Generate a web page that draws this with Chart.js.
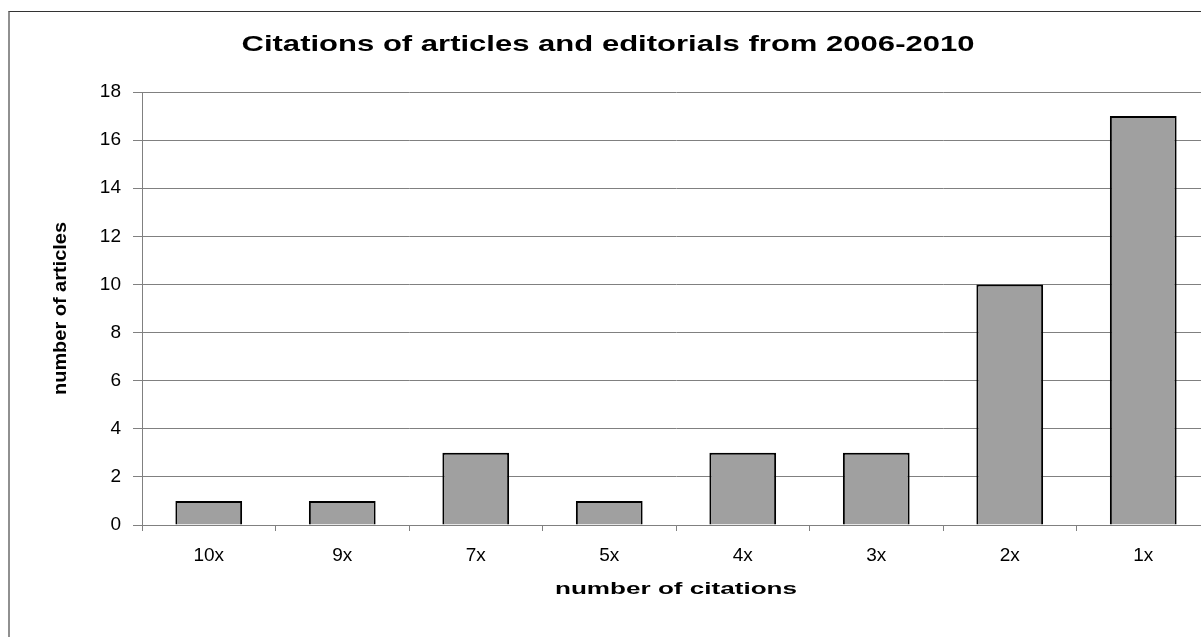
<!DOCTYPE html>
<html>
<head>
<meta charset="utf-8">
<script src="https://cdn.jsdelivr.net/npm/chart.js@4.4.1/dist/chart.umd.min.js"></script>
<style>
  html, body { margin: 0; padding: 0; background: #fff; overflow: hidden; }
  #wrap { position: relative; width: 1201px; height: 637px; overflow: hidden; }
  #frame {
    position: absolute; left: 8px; top: 11px; width: 1300px; height: 700px;
    border-top: 1px solid #333; border-left: 2px solid #909090;
    pointer-events: none;
  }
  #box { position: absolute; left: 0; top: 0; width: 1230px; height: 637px; }
</style>
</head>
<body>
<div id="wrap">
  <div id="box"><canvas id="citeChart"></canvas></div>
  <div id="frame"></div>
</div>
<script>
// 引用次数分布
const citationLabels = ['10x', '9x', '7x', '5x', '4x', '3x', '2x', '1x'];
const articleCounts = [1, 1, 3, 1, 3, 3, 10, 17];
const yTicks = [0, 2, 4, 6, 8, 10, 12, 14, 16, 18];

const chartTitle = 'Citations of articles and editorials from 2006-2010';
const xTitle = 'number of citations';
const yTitle = 'number of articles';

const FONT = "'Liberation Sans', Arial, sans-serif";

// 横向拉伸的文字（标题与轴标题）
function stretchedText(ctx, text, x, y, size, width, rotate) {
    ctx.save();
    ctx.font = 'bold ' + size + 'px ' + FONT;
    ctx.fillStyle = '#000';
    ctx.textAlign = 'center';
    ctx.textBaseline = 'middle';
    const sx = width / ctx.measureText(text).width;
    ctx.translate(x, y);
    if (rotate) ctx.rotate(-Math.PI / 2);
    ctx.scale(sx, 1);
    ctx.fillText(text, 0, 0);
    ctx.restore();
}

const titlesPlugin = {
    id: 'stretchedTitles',
    afterDraw(chart) {
        const ctx = chart.ctx;
        const area = chart.chartArea;
        stretchedText(ctx, chartTitle, 608, 45, 22, 733, false);
        stretchedText(ctx, xTitle, (area.left + area.right) / 2, 589, 17, 242, false);
        stretchedText(ctx, yTitle, 61, (area.top + area.bottom) / 2, 18, 173, true);
    }
};

const ctx = document.getElementById('citeChart').getContext('2d');
new Chart(ctx, {
    type: 'bar',
    data: {
        labels: citationLabels,
        datasets: [{
            label: yTitle,
            data: articleCounts,
            backgroundColor: '#a0a0a0',
            borderColor: '#000',
            borderWidth: 2,
            barPercentage: 0.5,
            categoryPercentage: 1.0
        }]
    },
    plugins: [titlesPlugin],
    options: {
        responsive: true,
        maintainAspectRatio: false,
        animation: false,
        layout: { padding: { top: 92, left: 0, right: 20, bottom: 0 } },
        plugins: {
            legend: { display: false },
            tooltip: { enabled: false },
            title: { display: false }
        },
        scales: {
            x: {
                grid: { display: true, drawOnChartArea: false, drawTicks: true, tickLength: 6, color: '#808080', offset: true },
                border: { color: '#808080', width: 1 },
                ticks: { color: '#000', font: { family: FONT, size: 19 }, padding: 13 },
                afterFit: function(scale) { scale.height = 112; }
            },
            y: {
                min: 0,
                max: 18,
                afterBuildTicks: function(scale) { scale.ticks = yTicks.map(v => ({ value: v })); },
                grid: { color: '#808080', lineWidth: 1, tickLength: 9 },
                border: { color: '#808080', width: 1 },
                ticks: { color: '#000', font: { family: FONT, size: 19 }, padding: 12 },
                afterFit: function(scale) { scale.width = 142; }
            }
        }
    }
});
</script>
</body>
</html>
